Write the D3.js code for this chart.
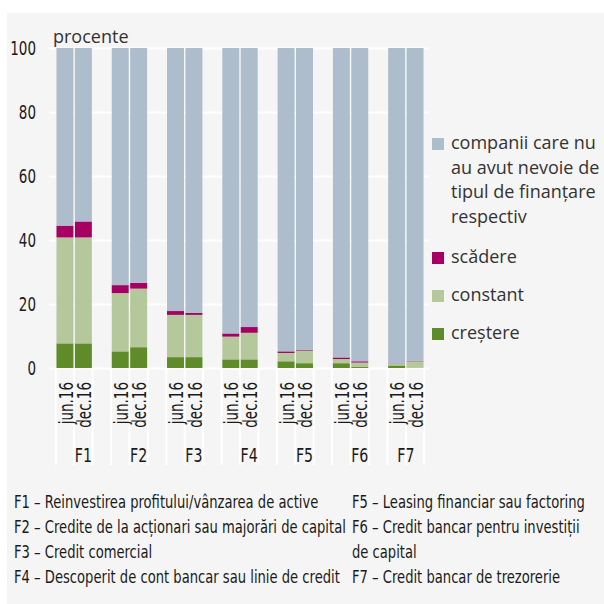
<!DOCTYPE html>
<html>
<head>
<meta charset="utf-8">
<script src="https://cdn.jsdelivr.net/npm/d3@7"></script>
<style>
    body { margin: 0; background: #fff; }
    svg { display: block; }
</style>
</head>
<body>
<svg id="chart" width="604" height="604"></svg>
<script>

// data
const categories = ["F1", "F2", "F3", "F4", "F5", "F6", "F7"]
const periods = ["jun.16", "dec.16"]
const crestere = [7.7, 7.7, 5.2, 6.5, 3.4, 3.4, 2.7, 2.7, 2.1, 1.5, 1.5, 0.3, 0.8, 0.1]
const constant = [33.1, 33.1, 18.2, 18.3, 13.2, 13.2, 7.1, 8.3, 2.6, 3.9, 1.3, 1.4, 0.5, 2.0]
const scadere = [3.7, 5.0, 2.5, 1.8, 1.2, 0.6, 1.0, 1.8, 0.5, 0.2, 0.5, 0.4, 0.1, 0.1]
const faraNevoie = [55.5, 54.2, 74.1, 73.4, 82.2, 82.8, 89.2, 87.2, 94.8, 94.4, 96.7, 97.9, 98.6, 97.8]
const yTicks = [0, 20, 40, 60, 80, 100]

const seriesKeys = ["crestere", "constant", "scadere", "faraNevoie"]
const seriesColors = ["#5f8b2a", "#b5c89b", "#a50062", "#adbdcb"]
const legendLabels = [
    ["companii care nu", "au avut nevoie de", "tipul de finanțare", "respectiv"],
    ["scădere"],
    ["constant"],
    ["creștere"]
]
const footLeft = [
    "F1 – Reinvestirea profitului/vânzarea de active",
    "F2 – Credite de la acționari sau majorări de capital",
    "F3 – Credit comercial",
    "F4 – Descoperit de cont bancar sau linie de credit"
]
const footRight = [
    "F5 – Leasing financiar sau factoring",
    "F6 – Credit bancar pentru investiții",
    "de capital",
    "F7 – Credit bancar de trezorerie"
]

const condensed = "'Liberation Sans Narrow', 'DejaVu Sans Condensed', 'Liberation Sans', sans-serif"
const regular = "'Open Sans', 'Noto Sans', sans-serif"
const footSize = 18.5

const svg = d3.select("#chart")

// no condensed face installed for sure, so squeeze horizontally
// so that footLeft[1] is as wide as in the reference (~332px)
const probe = svg.append("text")
    .style("font-family", condensed)
    .style("font-size", footSize + "px")
    .text(footLeft[1])
const squeeze = Math.min(1, 332 / probe.node().getComputedTextLength())
probe.remove()

// rows: one per bar
const rows = []
categories.forEach((c, i) => {
    periods.forEach((p, j) => {
        const k = i * periods.length + j
        rows.push({
            slot: c + "|" + p, cat: c, period: p,
            crestere: crestere[k], constant: constant[k],
            scadere: scadere[k], faraNevoie: faraNevoie[k]
        })
    })
})

// slots: bars plus an empty slot between groups
const slots = []
categories.forEach((c, i) => {
    periods.forEach(p => slots.push(c + "|" + p))
    if (i < categories.length - 1) slots.push(c + "|gap")
})

svg.append("rect")
    .attr("x", 7).attr("y", 13)
    .attr("width", 597).attr("height", 591)
    .attr("fill", "#f5f5f5")

const plotLeft = 49, plotRight = 429

const x = d3.scaleBand()
    .domain(slots)
    .range([55, 425])
    .padding(0.08)

const y = d3.scaleLinear()
    .domain([0, 100])
    .range([368, 48])

// y axis with white gridlines
const yAxis = d3.axisLeft(y)
    .tickValues(yTicks)
    .tickSize(-(plotRight - plotLeft))
    .tickPadding(13)

const gy = svg.append("g")
    .attr("transform", `translate(${plotLeft},0)`)
    .call(yAxis)
gy.select(".domain").remove()
gy.selectAll(".tick line").attr("stroke", "#fff").attr("stroke-width", 2)
gy.selectAll(".tick text")
    .attr("x", null)
    .attr("transform", `translate(-13,0) scale(${squeeze},1)`)
    .style("font-family", condensed)
    .style("font-size", "19px")
    .attr("fill", "#1a1a1a")

// white separators under the axis
const step = x.step()
const edges = slots.map(s => x(s) - (step - x.bandwidth()) / 2)
edges.push(x(slots[slots.length - 1]) + x.bandwidth() + (step - x.bandwidth()) / 2)
svg.append("g")
    .selectAll("line")
    .data(edges)
    .enter().append("line")
    .attr("x1", d => d).attr("x2", d => d)
    .attr("y1", y(0)).attr("y2", 465)
    .attr("stroke", "#fff")
    .attr("stroke-width", 2)

svg.append("text")
    .attr("x", 53).attr("y", 43)
    .style("font-family", regular)
    .style("font-size", "18px")
    .attr("fill", "#333")
    .text("procente")

// stacked bars
const stacked = d3.stack().keys(seriesKeys)(rows)
const color = d3.scaleOrdinal().domain(seriesKeys).range(seriesColors)

svg.append("g")
    .selectAll("g")
    .data(stacked)
    .enter().append("g")
    .attr("fill", d => color(d.key))
    .selectAll("rect")
    .data(d => d)
    .enter().append("rect")
    .attr("x", d => x(d.data.slot))
    .attr("y", d => y(d[1]))
    .attr("width", x.bandwidth())
    .attr("height", d => y(d[0]) - y(d[1]))

// rotated period labels
svg.append("g")
    .selectAll("text")
    .data(rows)
    .enter().append("text")
    .attr("transform", d => `translate(${x(d.slot) + x.bandwidth() / 2 + 1},382) rotate(-90) scale(${squeeze},1)`)
    .attr("text-anchor", "end")
    .attr("dy", "0.35em")
    .style("font-family", condensed)
    .style("font-size", "19px")
    .attr("fill", "#1a1a1a")
    .text(d => d.period)

// category labels centred on each group's span
svg.append("g")
    .selectAll("text")
    .data(categories)
    .enter().append("text")
    .attr("transform", (c, i) => {
        const own = slots.filter(s => s.startsWith(c + "|"))
        const a = x(own[0]) - (step - x.bandwidth()) / 2
        const b = x(own[own.length - 1]) + x.bandwidth() + (step - x.bandwidth()) / 2
        return `translate(${(a + b) / 2},462) scale(${squeeze},1)`
    })
    .attr("text-anchor", "middle")
    .style("font-family", condensed)
    .style("font-size", "20px")
    .attr("fill", "#1a1a1a")
    .text(d => d)

// legend, top item first
const legendOrder = ["faraNevoie", "scadere", "constant", "crestere"]
const legendTop = [138, 252, 290, 328]
const legend = svg.append("g")
legendOrder.forEach((k, i) => {
    legend.append("rect")
        .attr("x", 432).attr("y", legendTop[i])
        .attr("width", 12).attr("height", 12)
        .attr("fill", color(k))
    legend.append("text")
        .attr("x", 451)
        .attr("y", legendTop[i] + 11)
        .style("font-family", regular)
        .style("font-size", "18px")
        .attr("fill", "#333")
        .selectAll("tspan")
        .data(legendLabels[i])
        .enter().append("tspan")
        .attr("x", 451)
        .attr("dy", (d, j) => j === 0 ? 0 : 24.7)
        .text(d => d)
})

// footnote with the F codes
const foot = svg.append("g")
    .style("font-family", condensed)
    .style("font-size", footSize + "px")
    .attr("fill", "#1a1a1a")
foot.selectAll(".left")
    .data(footLeft)
    .enter().append("text")
    .attr("transform", (d, i) => `translate(14,${508 + i * 25}) scale(${squeeze},1)`)
    .text(d => d)
foot.selectAll(".right")
    .data(footRight)
    .enter().append("text")
    .attr("transform", (d, i) => `translate(352,${508 + i * 25}) scale(${squeeze},1)`)
    .text(d => d)

</script>
</body>
</html>
